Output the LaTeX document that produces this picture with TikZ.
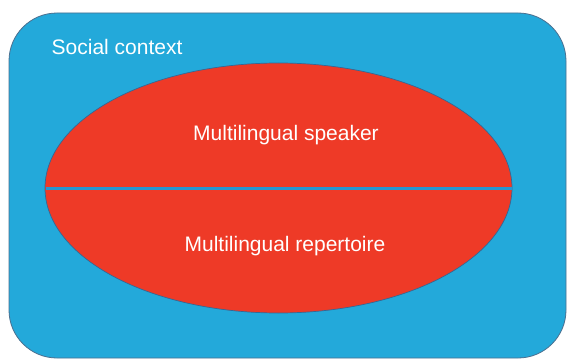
\documentclass[tikz,border=0pt]{standalone}
\usepackage{fontspec}
\setmainfont{Liberation Sans}
\definecolor{ctxblue}{RGB}{35,169,218}
\definecolor{spkred}{RGB}{238,58,39}
\definecolor{edgeblue}{RGB}{52,104,150}
\definecolor{lineblue}{RGB}{38,150,210}
\tikzset{
  lbl/.style={text=white,inner sep=0pt,font=\fontsize{21}{25}\selectfont},
}
\begin{document}
\begin{tikzpicture}[x=1pt,y=-1pt]
\useasboundingbox (0,0) rectangle (568,361);
\fill[white] (0,0) rectangle (568,361);
\draw[fill=ctxblue,draw=edgeblue!70!gray,line width=0.8pt,rounded corners=48pt] (9,13) rectangle (566,358);
\draw[fill=spkred,draw=edgeblue,line width=0.7pt] (278.5,188) ellipse [x radius=233.5,y radius=125];
\coordinate (l) at (45.5,188);
\coordinate (r) at (511.5,188);
\draw[lineblue,line width=3pt] (l) -- (r);
\node[lbl,anchor=base west] (ctx) at (51.5,55) {Social context};
\node[lbl,anchor=base] (spk) at (286,140) {Multilingual speaker};
\node[lbl,anchor=base] (rep) at (285,251) {Multilingual repertoire};
\end{tikzpicture}
\end{document}
